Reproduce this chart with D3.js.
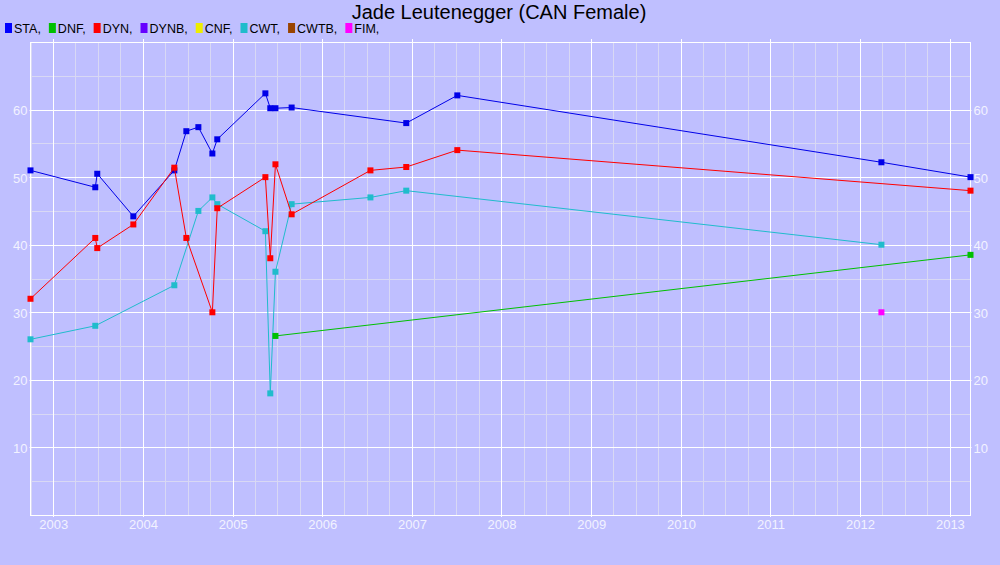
<!DOCTYPE html>
<html>
<head>
<meta charset="utf-8">
<script src="https://cdn.jsdelivr.net/npm/d3@7/dist/d3.min.js"></script>
<style>
  html, body { margin: 0; padding: 0; background: #bfbfff; }
  svg { display: block; }
  text { font-family: "Liberation Sans", Arial, sans-serif; }
</style>
</head>
<body>
<svg id="chart" width="1000" height="565"></svg>
<script>
// ---- Data ----
const title = "Jade Leutenegger (CAN Female)";
const legendNames = ["STA", "DNF", "DYN", "DYNB", "CNF", "CWT", "CWTB", "FIM"];
const legendColors = ["#0000ff", "#00c000", "#ff0000", "#6600ff", "#eeee00", "#20bccc", "#994400", "#ff00ff"];

const staDates  = ["2002-09-30","2003-06-21","2003-06-29","2003-11-23","2004-05-08","2004-06-26","2004-08-14","2004-10-10","2004-10-30","2005-05-14","2005-06-03","2005-06-24","2005-08-29","2006-12-09","2007-07-05","2012-03-28","2013-03-26"];
const staValues = [51.0, 48.5, 50.5, 44.2, 51.0, 56.8, 57.4, 53.5, 55.6, 62.4, 60.2, 60.2, 60.3, 58.0, 62.1, 52.2, 50.0];

const dnfDates  = ["2005-06-24","2013-03-26"];
const dnfValues = [26.5, 38.5];

const dynDates  = ["2002-09-30","2003-06-21","2003-06-29","2003-11-23","2004-05-08","2004-06-26","2004-10-10","2004-10-30","2005-05-14","2005-06-03","2005-06-24","2005-08-29","2006-07-16","2006-12-09","2007-07-05","2013-03-26"];
const dynValues = [32.0, 41.0, 39.5, 43.0, 51.4, 41.0, 30.0, 45.4, 50.0, 38.0, 51.9, 44.5, 51.0, 51.5, 54.0, 48.0];

const cwtDates  = ["2002-09-30","2003-06-21","2004-05-08","2004-08-14","2004-10-10","2004-10-30","2005-05-14","2005-06-03","2005-06-24","2005-08-29","2006-07-16","2006-12-09","2012-03-28"];
const cwtValues = [26.0, 28.0, 34.0, 45.0, 47.0, 46.0, 42.0, 18.0, 36.0, 46.0, 47.0, 48.0, 40.0];

const fimDates  = ["2012-03-28"];
const fimValues = [30.0];

const yMajorTicks = [10, 20, 30, 40, 50, 60];
const yMinorTicks = [5, 15, 25, 35, 45, 55, 65];

// ---- Setup ----
const parse = d3.timeParse("%Y-%m-%d");
const toPts = (ds, vs) => ds.map((d, i) => ({ date: parse(d), value: vs[i] }));
const series = [
  { name: "CWT", color: "#20bccc", pts: toPts(cwtDates, cwtValues) },
  { name: "STA", color: "#0000e8", pts: toPts(staDates, staValues) },
  { name: "DNF", color: "#00c000", pts: toPts(dnfDates, dnfValues) },
  { name: "DYN", color: "#ff0000", pts: toPts(dynDates, dynValues) },
  { name: "FIM", color: "#ff00ff", pts: toPts(fimDates, fimValues) }
];

const L = 30.5, R = 970.5, T = 42, B = 515;
const allDates = series.flatMap(s => s.pts.map(p => p.date));
const x = d3.scaleTime().domain(d3.extent(allDates)).range([L, R]);
const y = d3.scaleLinear().domain([0, 70]).range([B, T]);

const svg = d3.select("#chart");
svg.append("rect").attr("width", 1000).attr("height", 565).attr("fill", "#bfbfff");

// Minor grid
const g = svg.append("g");
const quarters = x.ticks(d3.timeMonth.every(3)).filter(d => d.getMonth() !== 0);
g.selectAll(".vmin").data(quarters).join("line")
  .attr("x1", d => Math.round(x(d)) + 0.5).attr("x2", d => Math.round(x(d)) + 0.5)
  .attr("y1", T).attr("y2", B)
  .attr("stroke", "#d8d8f4").attr("stroke-width", 1);
g.selectAll(".hmin").data(yMinorTicks).join("line")
  .attr("x1", L).attr("x2", R)
  .attr("y1", d => Math.round(y(d)) + 0.5).attr("y2", d => Math.round(y(d)) + 0.5)
  .attr("stroke", "#d8d8f4").attr("stroke-width", 1);

// Major grid
const years = x.ticks(d3.timeYear.every(1));
g.selectAll(".vmaj").data(years).join("line")
  .attr("x1", d => Math.round(x(d)) + 0.5).attr("x2", d => Math.round(x(d)) + 0.5)
  .attr("y1", T - 3).attr("y2", B + 2)
  .attr("stroke", "#ffffff").attr("stroke-width", 1);
g.selectAll(".hmaj").data(yMajorTicks).join("line")
  .attr("x1", L - 1).attr("x2", R + 1)
  .attr("y1", d => Math.round(y(d)) + 0.5).attr("y2", d => Math.round(y(d)) + 0.5)
  .attr("stroke", "#ffffff").attr("stroke-width", 1);

// Frame
g.append("rect").attr("x", L).attr("y", T + 0.5).attr("width", R - L).attr("height", B - T)
  .attr("fill", "none").attr("stroke", "#ffffff").attr("stroke-width", 1);

// Axes labels
const xAxis = d3.axisBottom(x).tickValues(years).tickFormat(d3.timeFormat("%Y")).tickSize(0).tickPadding(0);
const xg = svg.append("g").attr("transform", `translate(0,${B + 13.5})`).call(xAxis);
xg.select(".domain").remove();
xg.selectAll("text").attr("fill", "#f2f2ff").style("font-size", "13px").attr("dy", "0");

const yl = d3.axisLeft(y).tickValues(yMajorTicks).tickSize(0).tickPadding(0);
const ylg = svg.append("g").attr("transform", `translate(${L - 3},0)`).call(yl);
ylg.select(".domain").remove();
ylg.selectAll("text").attr("fill", "#f2f2ff").style("font-size", "13px").attr("dy", "0.38em");

const yr = d3.axisRight(y).tickValues(yMajorTicks).tickSize(0).tickPadding(0);
const yrg = svg.append("g").attr("transform", `translate(${R + 3},0)`).call(yr);
yrg.select(".domain").remove();
yrg.selectAll("text").attr("fill", "#f2f2ff").style("font-size", "13px").attr("dy", "0.38em");

svg.selectAll(".tick text").style("font-family", '"Liberation Sans", Arial, sans-serif');

// Series
const line = d3.line().x(d => x(d.date)).y(d => y(d.value));
series.forEach(s => {
  const sg = svg.append("g");
  if (s.pts.length > 1) {
    sg.append("path").attr("d", line(s.pts)).attr("fill", "none")
      .attr("stroke", s.color).attr("stroke-width", 1);
  }
  sg.selectAll("rect").data(s.pts).join("rect")
    .attr("x", d => x(d.date) - 3).attr("y", d => y(d.value) - 3)
    .attr("width", 6).attr("height", 6).attr("fill", s.color);
});

// Title
svg.append("text").attr("x", 499).attr("y", 19).attr("text-anchor", "middle")
  .attr("fill", "#000").style("font-size", "20px").text(title);

// Legend
let lx = 5;
legendNames.forEach((n, i) => {
  svg.append("rect").attr("x", lx).attr("y", 23).attr("width", 7).attr("height", 10).attr("fill", legendColors[i]);
  const t = svg.append("text").attr("x", lx + 9).attr("y", 33).attr("fill", "#000")
    .style("font-size", "12.5px").text(n + ",");
  lx += 9 + t.node().getComputedTextLength() + 8;
});
</script>
</body>
</html>
